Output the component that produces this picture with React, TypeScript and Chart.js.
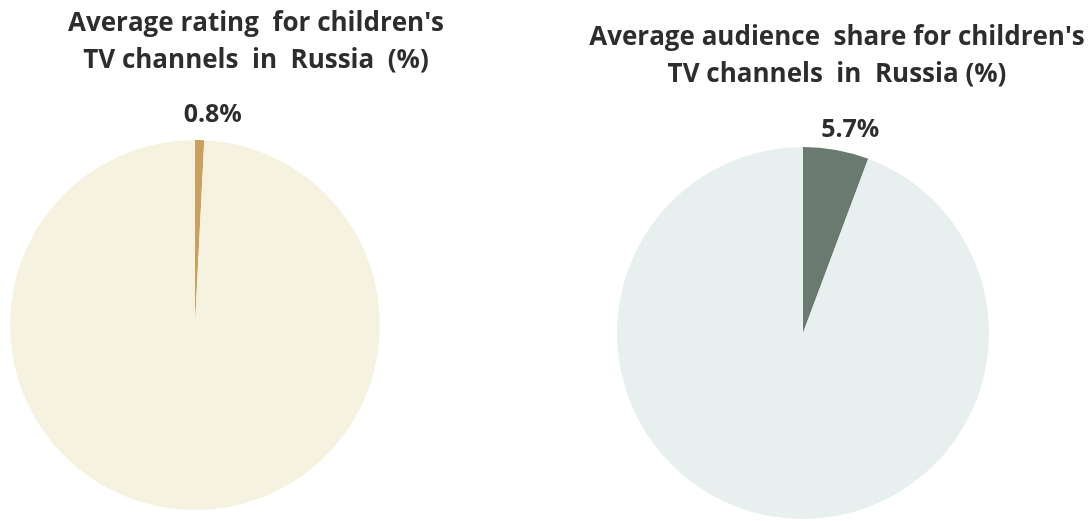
import React, { useEffect, useRef } from "react";
import { Chart, registerables } from "chart.js";

Chart.register(...registerables);

const sliceLabels = ["Children's TV channels", "Other"];
const ratingValues = [0.8, 99.2];
const shareValues = [5.7, 94.3];
const ratingTitle = ["Average rating  for children's", "TV channels  in  Russia  (%)"];
const shareTitle = ["Average audience  share for children's", "TV channels  in  Russia (%)"];
const ratingColors = ["#C9A05E", "#F5F3E0"];
const shareColors = ["#6A7A71", "#E8F0EF"];

const FONT = "'Open Sans', 'Noto Sans', sans-serif";
const TEXT = "#2d2d2d";

const textPlugin = {
  id: "pieTexts",
  afterDraw(chart: any, _args: any, opts: any) {
    const ctx = chart.ctx;
    ctx.save();
    ctx.fillStyle = TEXT;
    ctx.font = `bold ${opts.titleSize}px ${FONT}`;
    ctx.textAlign = "center";
    ctx.textBaseline = "alphabetic";
    (opts.lines as string[]).forEach((l, i) => {
      ctx.fillText(l, opts.titleX, opts.titleY + i * opts.lineGap);
    });
    const meta = chart.getDatasetMeta(0);
    const arc = meta.data[0];
    const p = arc.getProps(["x", "y", "startAngle", "endAngle", "outerRadius"], true);
    const mid = (p.startAngle + p.endAngle) / 2;
    const ox = p.x + Math.cos(mid) * p.outerRadius;
    const oy = p.y + Math.sin(mid) * p.outerRadius;
    const v = chart.data.datasets[0].data[0];
    ctx.font = `bold ${opts.labelSize}px ${FONT}`;
    ctx.textAlign = "left";
    ctx.fillText(`${v}%`, ox + opts.labelDx, oy + opts.labelDy);
    ctx.restore();
  },
};

function PieChart(props: {
  values: number[];
  colors: string[];
  lines: string[];
  padding: any;
  titleX: number;
  titleY: number;
  labelDx: number;
  labelDy: number;
}) {
  const ref = useRef<HTMLCanvasElement | null>(null);
  useEffect(() => {
    if (!ref.current) return;
    const chart = new Chart(ref.current, {
      type: "pie",
      data: {
        labels: sliceLabels,
        datasets: [
          {
            data: props.values,
            backgroundColor: props.colors,
            borderWidth: 0,
          },
        ],
      },
      options: {
        animation: false,
        responsive: false,
        layout: { padding: props.padding },
        plugins: {
          legend: { display: false },
          tooltip: { enabled: false },
          title: { display: false },
          pieTexts: {
            lines: props.lines,
            titleX: props.titleX,
            titleY: props.titleY,
            lineGap: 37,
            titleSize: 26,
            labelSize: 25,
            labelDx: props.labelDx,
            labelDy: props.labelDy,
          },
        } as any,
      },
      plugins: [textPlugin],
    });
    return () => chart.destroy();
  }, []);
  return <canvas ref={ref} width={545} height={521} style={{ display: "block" }} />;
}

export default function App() {
  return (
    <div
      style={{
        position: "fixed",
        left: 0,
        top: 0,
        width: 1091,
        height: 521,
        background: "#ffffff",
        display: "flex",
      }}
    >
      <PieChart
        values={ratingValues}
        colors={ratingColors}
        lines={ratingTitle}
        padding={{ left: 10, right: 165, top: 140, bottom: 11 }}
        titleX={256}
        titleY={31}
        labelDx={-16}
        labelDy={-18}
      />
      <PieChart
        values={shareValues}
        colors={shareColors}
        lines={shareTitle}
        padding={{ left: 72, right: 101, top: 147, bottom: 2 }}
        titleX={292}
        titleY={45}
        labelDx={-15}
        labelDy={-13}
      />
    </div>
  );
}
